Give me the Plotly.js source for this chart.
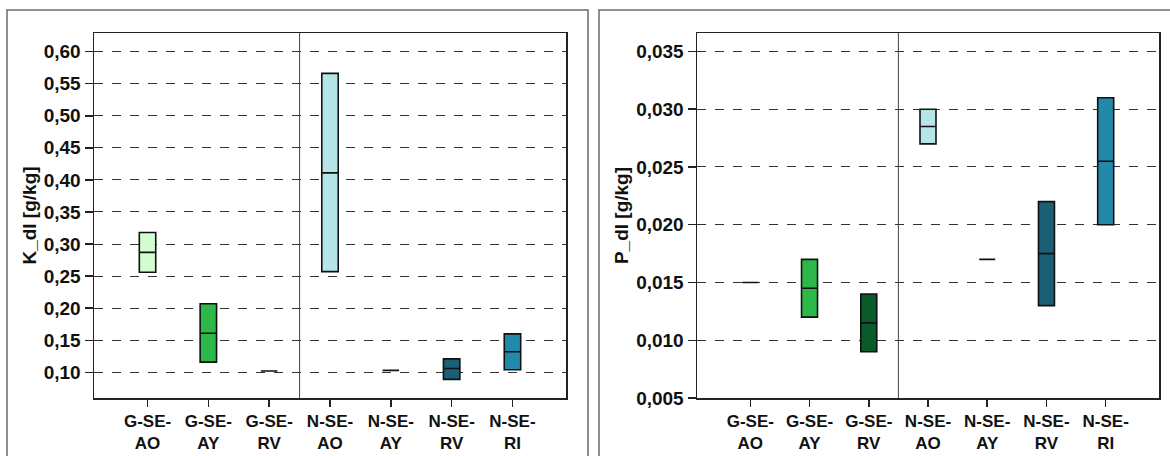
<!DOCTYPE html>
<html>
<head>
<meta charset="utf-8">
<script src="https://cdn.plot.ly/plotly-3.0.1.min.js"></script>
<style>html,body{margin:0;padding:0;background:#fff;}#chart{width:1170px;height:456px;}</style>
</head>
<body>
<div id="chart"></div>
<script>
// ---- data ----
const categories = ["G-SE-AO","G-SE-AY","G-SE-RV","N-SE-AO","N-SE-AY","N-SE-RV","N-SE-RI"];
const tickLabels = ["G-SE-<br>AO","G-SE-<br>AY","G-SE-<br>RV","N-SE-<br>AO","N-SE-<br>AY","N-SE-<br>RV","N-SE-<br>RI"];
const colors = ["#d3fdd0","#2db84a","#0b5a2c","#b5e5e6","#b5e5e6","#1b5f74","#2389ab"];

// K_dl [g/kg]
const kLow    = [0.256, 0.116, 0.102, 0.257, 0.103, 0.089, 0.104];
const kMedian = [0.287, 0.161, 0.102, 0.411, 0.103, 0.106, 0.132];
const kHigh   = [0.318, 0.207, 0.102, 0.566, 0.103, 0.121, 0.160];

// P_dl [g/kg]
const pLow    = [0.0150, 0.0120, 0.0090, 0.0270, 0.0170, 0.0130, 0.0200];
const pMedian = [0.0150, 0.0145, 0.0115, 0.0285, 0.0170, 0.0175, 0.0255];
const pHigh   = [0.0150, 0.0170, 0.0140, 0.0300, 0.0170, 0.0220, 0.0310];

const FONT = "Liberation Sans, Arial, sans-serif";
const traces = [];
function addBoxes(lo, med, hi, xa, ya) {
  categories.forEach((c, i) => {
    traces.push({
      type: "box",
      x: [c],
      q1: [lo[i]], median: [med[i]], q3: [hi[i]],
      lowerfence: [lo[i]], upperfence: [hi[i]],
      fillcolor: colors[i],
      line: {color: "#111", width: 1.6},
      whiskerwidth: 0.6,
      width: 0.27,
      boxpoints: false,
      showlegend: false,
      hoverinfo: "skip",
      xaxis: xa, yaxis: ya
    });
  });
}
addBoxes(kLow, kMedian, kHigh, "x", "y");
addBoxes(pLow, pMedian, pHigh, "x2", "y2");

const W = 1170, H = 456;
const px = v => v / W, py = v => (H - v) / H;

const axisCommon = {
  showline: true, mirror: true, linecolor: "#222", linewidth: 1.5,
  ticks: "outside", ticklen: 8, tickcolor: "#222", tickwidth: 1.5,
  tickfont: {family: FONT, size: 19, color: "#111", weight: 700},
  zeroline: false, fixedrange: true, automargin: false
};

const xCommon = Object.assign({}, axisCommon, {
  type: "category", categoryorder: "array", categoryarray: categories,
  tickvals: categories, ticktext: tickLabels, showgrid: false, tickangle: 0,
  ticklen: 7,
  tickfont: {family: FONT, size: 17, color: "#111", weight: 700}
});

const yTitleFont = {family: FONT, size: 19, color: "#111", weight: 700};

const layout = {
  width: W, height: H,
  margin: {l: 0, r: 0, t: 0, b: 0},
  paper_bgcolor: "#fff", plot_bgcolor: "#fff",
  separators: ",.",
  boxmode: "overlay",
  showlegend: false,
  xaxis: Object.assign({}, xCommon, {domain: [px(94), px(566)], range: [-0.88, 6.88], anchor: "y"}),
  yaxis: Object.assign({}, axisCommon, {
    domain: [py(398), py(33)], range: [0.06, 0.629], anchor: "x",
    tick0: 0.1, dtick: 0.05, tickformat: ".2f",
    showgrid: true, gridcolor: "#333", griddash: "dash", gridwidth: 1,
    title: {text: "K_dl [g/kg]", font: yTitleFont, standoff: 2}
  }),
  xaxis2: Object.assign({}, xCommon, {domain: [px(697), px(1159)], range: [-0.9, 6.9], anchor: "y2"}),
  yaxis2: Object.assign({}, axisCommon, {
    domain: [py(398), py(33)], range: [0.005, 0.0366], anchor: "x2",
    tick0: 0.005, dtick: 0.005, tickformat: ".3f",
    showgrid: true, gridcolor: "#333", griddash: "dash", gridwidth: 1,
    title: {text: "P_dl [g/kg]", font: yTitleFont, standoff: 2}
  }),
  shapes: [
    {type: "rect", xref: "paper", yref: "paper", x0: px(7), x1: px(588), y0: -0.05, y1: py(10),
     line: {color: "#6a6a6a", width: 1.5}, fillcolor: "rgba(0,0,0,0)", layer: "below"},
    {type: "rect", xref: "paper", yref: "paper", x0: px(599), x1: px(1180), y0: -0.05, y1: py(10),
     line: {color: "#6a6a6a", width: 1.5}, fillcolor: "rgba(0,0,0,0)", layer: "below"},
    {type: "line", xref: "x", yref: "y domain", x0: 2.5, x1: 2.5, y0: 0, y1: 1,
     line: {color: "#444", width: 1}},
    {type: "line", xref: "x2", yref: "y2 domain", x0: 2.5, x1: 2.5, y0: 0, y1: 1,
     line: {color: "#444", width: 1}}
  ]
};

Plotly.newPlot("chart", traces, layout, {staticPlot: true, displayModeBar: false});
</script>
</body>
</html>
